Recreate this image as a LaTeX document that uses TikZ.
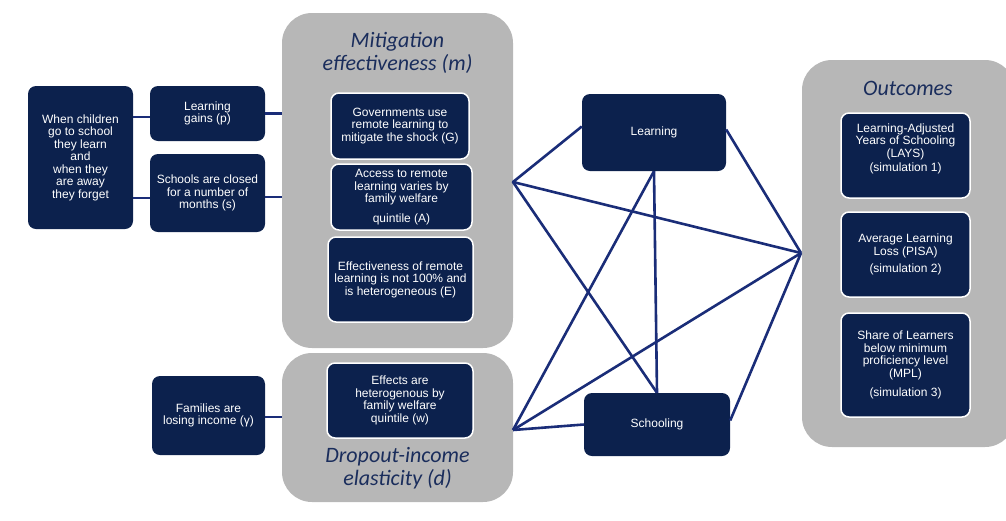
\documentclass[tikz,border=0pt]{standalone}
\usepackage{fontspec}
\setmainfont{Liberation Sans}
\newfontfamily\boxfont{Liberation Sans}
\newfontfamily\ttlfont{Carlito}
\definecolor{navy}{HTML}{0C214D}
\definecolor{ttlnavy}{HTML}{1A2D5C}
\definecolor{linkblue}{HTML}{1A2D78}
\definecolor{panelgray}{HTML}{B7B7B7}
\begin{document}
\begin{tikzpicture}[x=1pt,y=-1pt,
  dbox/.style={fill=navy, rounded corners=8pt, text=white, align=center, inner sep=0pt,
    font=\boxfont\fontsize{12}{12.5}\selectfont},
  ibox/.style={dbox, draw=white, line width=1.5pt},
  gbox/.style={fill=panelgray, rounded corners=30pt, inner sep=0pt},
  ttl/.style={text=ttlnavy, align=center, inner sep=0pt,
    font=\ttlfont\itshape\fontsize{22}{23.3}\selectfont},
  link/.style={draw=linkblue, line width=2.6pt}]
\useasboundingbox (0,0) rectangle (1006,520);
% gray panels
\node[gbox, minimum width=231pt, minimum height=335pt] (mit) at (397.5,180.5) {};
\node[gbox, minimum width=231pt, minimum height=149pt] (drop) at (397.5,427.5) {};
\node[gbox, minimum width=213pt, minimum height=387pt] (out) at (908.5,253.5) {};
% titles
\node[ttl] (mittitle) at (397.5,53) {Mitigation\\effectiveness (m)};
\node[ttl] (droptitle) at (397.5,468.5) {Dropout-income\\elasticity (d)};
\node[ttl] (outtitle) at (908,88) {Outcomes};
% left boxes
\node[dbox, minimum width=105pt, minimum height=143pt] (kid) at (80.5,157.5)
  {\fontsize{12}{13}\selectfont When children\\go to school\\they learn\\and\\when they\\are away\\they forget};
\node[dbox, minimum width=115pt, minimum height=55pt] (gains) at (207.5,113.5)
  {\fontsize{12}{15.5}\selectfont Learning\\gains (p)};
\node[dbox, minimum width=115pt, minimum height=78pt] (closed) at (207.5,193)
  {\fontsize{12}{13}\selectfont Schools are closed\\for a number of\\months (s)};
\node[dbox, minimum width=113pt, minimum height=79pt] (fam) at (208.5,415.5)
  {\fontsize{12}{13.3}\selectfont Families are\\losing income (γ)};
% mitigation inner boxes
\node[ibox, minimum width=138pt, minimum height=66pt] (G) at (400,126) {Governments use\\remote learning to\\mitigate the shock (G)};
\node[ibox, minimum width=141pt, minimum height=66pt] (A) at (401.5,197) {Access to remote\\learning varies by\\family welfare\\[7pt]quintile (A)};
\node[ibox, minimum width=145pt, minimum height=85pt] (E) at (400.5,279.5)
  {\fontsize{12}{11.7}\selectfont Effectiveness of remote\\learning is not 100\% and\\is heterogeneous (E)};
% dropout inner box
\node[ibox, minimum width=146pt, minimum height=75pt] (W) at (400,400.5)
  {\fontsize{12}{12.7}\selectfont Effects are\\heterogenous by\\family welfare\\quintile (w)};
% middle boxes
\node[dbox, minimum width=144pt, minimum height=77pt] (learn) at (654,132.5) {Learning};
\node[dbox, minimum width=146pt, minimum height=63pt] (school) at (657,424.5) {Schooling};
% outcome boxes
\node[ibox, minimum width=129pt, minimum height=85pt] (O1) at (905.5,155.5)
  {\fontsize{12}{10.8}\selectfont Learning-Adjusted\\Years of Schooling\\(LAYS)\\[1.5pt](simulation 1)\\[4pt]\mbox{}};
\node[ibox, minimum width=129pt, minimum height=85pt] (O2) at (905.5,254.5)
  {\fontsize{12}{13.3}\selectfont Average Learning\\Loss (PISA)\\[5pt](simulation 2)};
\node[ibox, minimum width=129pt, minimum height=104pt] (O3) at (905.5,365)
  {Share of Learners\\below minimum\\proficiency level\\(MPL)\\[6.5pt](simulation 3)};
% junctions
\coordinate (jL1) at (513,182);
\coordinate (jL2) at (513,430);
\coordinate (jR) at (801,253);
% left connectors
\draw[link] ([yshift=-3.5pt]kid.east |- gains.west) -- ([yshift=-3.5pt]gains.west);
\draw[link] ([yshift=-5pt]kid.east |- closed.west) -- ([yshift=-5pt]closed.west);
\draw[link] (gains.east) -- (gains.east -| mit.west);
\draw[link] ([yshift=-4pt]closed.east) -- ([yshift=-4pt]closed.east -| mit.west);
\draw[link] ([yshift=-1.5pt]fam.east) -- ([yshift=-1.5pt]fam.east -| drop.west);
% middle network
\draw[link, line join=round] ([yshift=6pt]learn.west) -- (jL1) -- (jR);
\draw[link] (jL1) -- (school.north);
\draw[link] (jL2) -- (learn.south);
\draw[link] (jL2) -- (jR);
\draw[link] (jL2) -- (school.west);
\draw[link] (learn.south) -- (school.north);
\draw[link] ([yshift=3pt]learn.east) -- (jR);
\draw[link] ([yshift=4pt]school.east) -- (jR);
\end{tikzpicture}
\end{document}
